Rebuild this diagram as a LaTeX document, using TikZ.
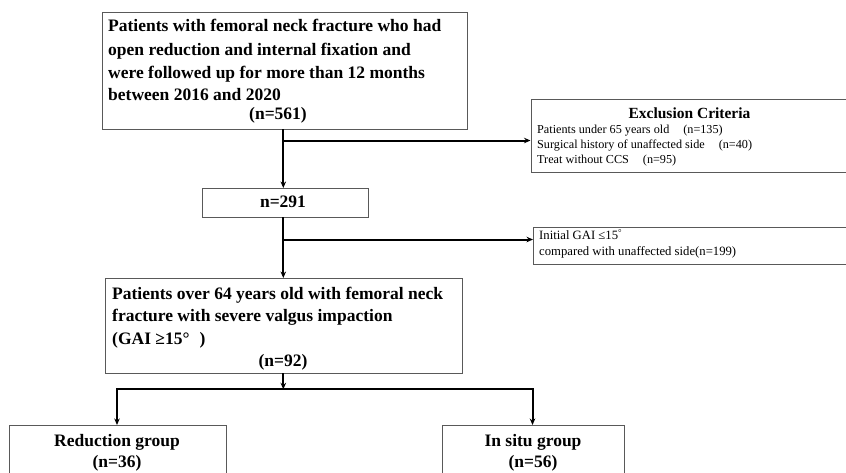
\documentclass[tikz,border=0pt]{standalone}
\usepackage{fontspec}
\setmainfont{Liberation Serif}
\usetikzlibrary{arrows.meta}
\begin{document}
\begin{tikzpicture}[x=1pt,y=-1pt,
  box/.style={draw=black!65, line width=0.9pt, inner sep=0pt, anchor=north west, rectangle},
  conn/.style={draw=black, line width=2pt},
  arr/.style={conn, -{Stealth[length=6.5pt,width=5.5pt]}},
  big/.style={inner sep=0pt, font=\fontsize{17.5}{20}\selectfont\bfseries},
  small/.style={inner sep=0pt, font=\fontsize{12.2}{14}\selectfont},
  mid/.style={inner sep=0pt, font=\fontsize{12.7}{15}\selectfont},
  ttl/.style={inner sep=0pt, font=\fontsize{15.5}{18}\selectfont\bfseries}]
\useasboundingbox (0,0) rectangle (846,472);
% boxes
\node[box, minimum width=365.5pt, minimum height=116.5pt] (b1) at (101.5,12) {};
\node[box, minimum width=330pt, minimum height=73pt] (excl) at (530.5,99) {};
\node[box, minimum width=166pt, minimum height=28.5pt] (n291) at (201.5,188) {};
\node[box, minimum width=330pt, minimum height=36.5pt] (gai) at (533,227) {};
\node[box, minimum width=357pt, minimum height=94.5pt] (b3) at (105,278) {};
\node[box, minimum width=217pt, minimum height=60pt] (red) at (9,425) {};
\node[box, minimum width=182pt, minimum height=60pt] (ins) at (442,425) {};
% texts box 1
\node[big, anchor=base west] (t1a) at (108,31) {Patients with femoral neck fracture who had};
\node[big, anchor=base west] (t1b) at (108,55) {open reduction and internal fixation and};
\node[big, anchor=base west] (t1c) at (108,78.5) {were followed up for more than 12 months};
\node[big, anchor=base west] (t1d) at (108,100) {between 2016 and 2020};
\node[big, anchor=base] (t1e) at (278,119) {(n=561)};
% exclusion
\node[ttl, anchor=base] (tea) at (689.5,118.5) {Exclusion Criteria};
\node[small, anchor=base west] (teb) at (537,133.5) {Patients under 65 years old\hspace{14pt}(n=135)};
\node[small, anchor=base west] (tec) at (537,148.5) {Surgical history of unaffected side\hspace{14pt}(n=40)};
\node[small, anchor=base west] (ted) at (537,163.5) {Treat without CCS\hspace{14pt}(n=95)};
% n=291
\node[big, anchor=base] (t2) at (283,207.5) {n=291};
% gai
\node[mid, anchor=base west] (tga) at (539,239.5) {Initial GAI ≤15\textsuperscript{°}};
\node[mid, anchor=base west] (tgb) at (539,255) {compared with unaffected side(n=199)};
% box 3
\node[big, anchor=base west] (t3a) at (112,299) {Patients over 64 years old with femoral neck};
\node[big, anchor=base west] (t3b) at (112,321.5) {fracture with severe valgus impaction};
\node[big, anchor=base west] (t3c) at (112,344) {(GAI ≥15°\hspace{10pt})};
\node[big, anchor=base] (t3d) at (283,366) {(n=92)};
% bottom boxes
\node[big, anchor=base] (tra) at (117,446.5) {Reduction group};
\node[big, anchor=base] (trb) at (117,467) {(n=36)};
\node[big, anchor=base] (tia) at (533,446.5) {In situ group};
\node[big, anchor=base] (tib) at (533,467) {(n=56)};
% connectors
\coordinate (cx) at (283.3,0);
\coordinate (j1) at (283.3,140.5);
\coordinate (j2) at (283.3,239.5);
\coordinate (j3) at (283.3,389.3);
\coordinate (jl) at (117,389.3);
\coordinate (jr) at (532.5,389.3);
\draw[arr] (b1.south -| cx) -- (n291.north -| cx);
\draw[arr] (j1) -- (j1 -| excl.west);
\draw[arr] (n291.south -| cx) -- (b3.north -| cx);
\draw[arr] (j2) -- (j2 -| gai.west);
\draw[arr] (b3.south -| cx) -- (j3);
\draw[conn, line cap=rect] (jl) -- (jr);
\draw[arr] (jl) -- (red.north -| jl);
\draw[arr] (jr) -- (ins.north -| jr);
\end{tikzpicture}
\end{document}
